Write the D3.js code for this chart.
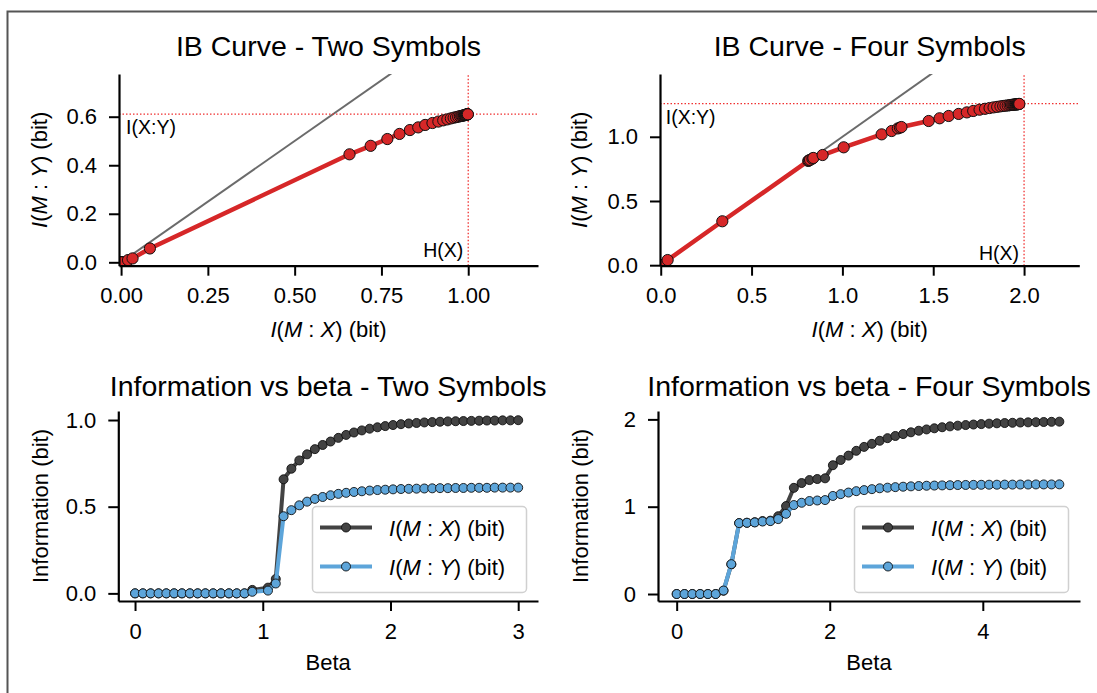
<!DOCTYPE html>
<html>
<head>
<meta charset="utf-8">
<script src="https://cdn.jsdelivr.net/npm/d3@7"></script>
<style>
html, body { margin: 0; padding: 0; background: #fff; }
svg text { font-family: "Liberation Sans", Arial, Helvetica, sans-serif; }
</style>
</head>
<body>
<svg id="chart" width="1097" height="693"></svg>
<script>
// ---- data: two symbols ----
var beta2 = [0, 0.061, 0.122, 0.184, 0.245, 0.306, 0.367, 0.429, 0.490, 0.551, 0.612, 0.673, 0.735, 0.796, 0.857,
  0.918, 1.041, 1.102, 1.163, 1.224, 1.286, 1.347, 1.408, 1.469, 1.531, 1.592, 1.653, 1.714, 1.776, 1.837,
  1.898, 1.959, 2.020, 2.082, 2.143, 2.204, 2.265, 2.327, 2.388, 2.449, 2.510, 2.571, 2.633, 2.694, 2.755,
  2.816, 2.878, 2.939, 3.0];
var mx2 = [0, 0, 0, 0, 0, 0, 0, 0, 0, 0, 0, 0, 0, 0, 0,
  0.020, 0.033, 0.083, 0.658, 0.719, 0.767, 0.802, 0.832, 0.856, 0.876, 0.897, 0.914, 0.928, 0.940, 0.950,
  0.958, 0.965, 0.971, 0.976, 0.980, 0.983, 0.986, 0.988, 0.990, 0.992, 0.993, 0.994, 0.995, 0.996, 0.997,
  0.997, 0.998, 0.998, 0.999];
var my2 = [0, 0, 0, 0, 0, 0, 0, 0, 0, 0, 0, 0, 0, 0, 0,
  0.009, 0.016, 0.057, 0.445, 0.480, 0.508, 0.529, 0.545, 0.556, 0.566, 0.574, 0.580, 0.585, 0.589, 0.593,
  0.596, 0.598, 0.600, 0.602, 0.603, 0.604, 0.605, 0.606, 0.607, 0.607, 0.608, 0.608, 0.609, 0.609, 0.609,
  0.610, 0.610, 0.610, 0.610];
var hx2 = 1.0, ixy2 = 0.611;

// ---- data: four symbols ----
var beta4 = [0, 0.102, 0.204, 0.306, 0.408, 0.510, 0.612, 0.714, 0.816, 0.918, 1.020, 1.122, 1.224, 1.327,
  1.429, 1.531, 1.633, 1.735, 1.837, 1.939, 2.041, 2.143, 2.245, 2.347, 2.449, 2.551, 2.653, 2.755, 2.857,
  2.959, 3.061, 3.163, 3.265, 3.367, 3.469, 3.571, 3.673, 3.776, 3.878, 3.980, 4.082, 4.184, 4.286, 4.388,
  4.490, 4.592, 4.694, 4.796, 4.898, 5.0];
var mx4 = [0, 0, 0, 0, 0, 0, 0.038, 0.339, 0.812, 0.816, 0.822, 0.835, 0.840, 0.891,
  1.007, 1.216, 1.271, 1.305, 1.317, 1.325, 1.475, 1.535, 1.585, 1.640, 1.685, 1.720, 1.755, 1.785, 1.810,
  1.832, 1.852, 1.870, 1.885, 1.898, 1.910, 1.920, 1.928, 1.935, 1.941, 1.946, 1.951, 1.955, 1.958, 1.961,
  1.964, 1.966, 1.968, 1.970, 1.972, 1.974];
var my4 = [0, 0, 0, 0, 0, 0, 0.040, 0.342, 0.812, 0.816, 0.820, 0.830, 0.835, 0.858,
  0.918, 1.019, 1.045, 1.065, 1.071, 1.076, 1.123, 1.144, 1.162, 1.178, 1.190, 1.201, 1.211, 1.218, 1.224,
  1.229, 1.233, 1.237, 1.240, 1.242, 1.244, 1.246, 1.248, 1.249, 1.250, 1.251, 1.252, 1.252, 1.253, 1.253,
  1.254, 1.254, 1.255, 1.255, 1.255, 1.256];
var hx4 = 2.0, ixy4 = 1.258;

// ---- tick labels ----
var ticksTLx = ['0.00', '0.25', '0.50', '0.75', '1.00'];
var ticksTLy = ['0.0', '0.2', '0.4', '0.6'];
var ticksTRx = ['0.0', '0.5', '1.0', '1.5', '2.0'];
var ticksTRy = ['0.0', '0.5', '1.0'];
var ticksBLx = ['0', '1', '2', '3'];
var ticksBLy = ['0.0', '0.5', '1.0'];
var ticksBRx = ['0', '2', '4'];
var ticksBRy = ['0', '1', '2'];

var svg = d3.select('#chart');
var font = '"Liberation Sans", Arial, Helvetica, sans-serif';

// outer frame (figure border, cropped at right/bottom)
svg.append('rect')
  .attr('x', 7.5).attr('y', 11.5)
  .attr('width', 1300).attr('height', 900)
  .attr('fill', 'none').attr('stroke', '#555').attr('stroke-width', 2);

// writes "I(a : b) (bit)" with the math parts in italics
function mathLabel(sel, a, b) {
  sel.append('tspan').attr('font-style', 'italic').text('I');
  sel.append('tspan').text('(');
  sel.append('tspan').attr('font-style', 'italic').text(a);
  sel.append('tspan').text('\u00a0:\u00a0');
  sel.append('tspan').attr('font-style', 'italic').text(b);
  sel.append('tspan').text(')\u00a0(bit)');
}

// draw the left and bottom spines with ticks
function drawAxes(x, y, xTicks, yTicks) {
  var gx = svg.append('g')
    .attr('transform', 'translate(0,' + y.range()[0] + ')')
    .call(d3.axisBottom(x)
      .tickValues(xTicks.map(Number))
      .tickFormat(function(d, i) { return xTicks[i]; })
      .tickSize(10).tickPadding(12).tickSizeOuter(0));
  var gy = svg.append('g')
    .attr('transform', 'translate(' + x.range()[0] + ',0)')
    .call(d3.axisLeft(y)
      .tickValues(yTicks.map(Number))
      .tickFormat(function(d, i) { return yTicks[i]; })
      .tickSize(10).tickPadding(12).tickSizeOuter(0));
  [gx, gy].forEach(function(g) {
    g.attr('font-size', 22).attr('font-family', font);
    g.select('.domain').attr('stroke', '#000').attr('stroke-width', 2.2);
    g.selectAll('.tick line').attr('stroke', '#000').attr('stroke-width', 2);
    g.selectAll('.tick text').attr('fill', '#000');
  });
}

function title(txt, cx, yb) {
  svg.append('text').attr('x', cx).attr('y', yb)
    .attr('text-anchor', 'middle').attr('font-size', 28.5).attr('fill', '#000')
    .text(txt);
}

function xLabel(cx, yb) {
  return svg.append('text').attr('x', cx).attr('y', yb)
    .attr('text-anchor', 'middle').attr('font-size', 22).attr('fill', '#000');
}

function yLabel(xb, cy) {
  return svg.append('text')
    .attr('transform', 'translate(' + xb + ',' + cy + ') rotate(-90)')
    .attr('text-anchor', 'middle').attr('font-size', 22).attr('fill', '#000');
}

// ---- IB curve panel ----
function ibPanel(id, x, y, mx, my, hx, ixy, xTicks, yTicks, titleTxt, ylx) {
  var x0 = x.range()[0], x1 = x.range()[1];
  var y0 = y.range()[0], y1 = y.range()[1];
  svg.append('clipPath').attr('id', id)
    .append('rect').attr('x', x0).attr('y', y1).attr('width', x1 - x0).attr('height', y0 - y1);
  var g = svg.append('g').attr('clip-path', 'url(#' + id + ')');

  // diagonal I(M:Y) = I(M:X)
  var dmax = Math.max(x.domain()[1], y.domain()[1]);
  g.append('line')
    .attr('x1', x(0)).attr('y1', y(0)).attr('x2', x(dmax)).attr('y2', y(dmax))
    .attr('stroke', '#6b6b6b').attr('stroke-width', 2);

  // reference lines
  g.append('line')
    .attr('x1', x0).attr('x2', x1).attr('y1', y(ixy)).attr('y2', y(ixy))
    .attr('stroke', '#f03030').attr('stroke-width', 1.3).attr('stroke-dasharray', '1.5,2');
  g.append('line')
    .attr('x1', x(hx)).attr('x2', x(hx)).attr('y1', y0).attr('y2', y1)
    .attr('stroke', '#f03030').attr('stroke-width', 1.3).attr('stroke-dasharray', '1.5,2');

  var line = d3.line().x(function(i) { return x(mx[i]); }).y(function(i) { return y(my[i]); });
  g.append('path').datum(d3.range(mx.length))
    .attr('d', line).attr('fill', 'none')
    .attr('stroke', '#d62728').attr('stroke-width', 4.5).attr('stroke-linejoin', 'round');
  g.selectAll('circle.pt').data(d3.range(mx.length)).enter().append('circle')
    .attr('cx', function(i) { return x(mx[i]); })
    .attr('cy', function(i) { return y(my[i]); })
    .attr('r', 5.6)
    .attr('fill', '#d62728').attr('stroke', '#111').attr('stroke-width', 1);

  svg.append('text').attr('x', x(0) + 5).attr('y', y(ixy) + 20)
    .attr('font-size', 19.5).attr('fill', '#000').text('I(X:Y)');
  svg.append('text').attr('x', x(hx) - 5).attr('y', y(0) - 5)
    .attr('text-anchor', 'end').attr('font-size', 19.5).attr('fill', '#000').text('H(X)');

  drawAxes(x, y, xTicks, yTicks);
  title(titleTxt, (x0 + x1) / 2, 56);
  mathLabel(xLabel((x0 + x1) / 2, 337), 'M', 'X');
  mathLabel(yLabel(ylx, (y0 + y1) / 2), 'M', 'Y');
}

// ---- information vs beta panel ----
function betaPanel(x, y, beta, mx, my, xTicks, yTicks, titleTxt, ylx) {
  var x0 = x.range()[0], x1 = x.range()[1];
  var y0 = y.range()[0], y1 = y.range()[1];
  var series = [
    { v: mx, color: '#434343', name: 'X' },
    { v: my, color: '#5da5da', name: 'Y' }
  ];
  series.forEach(function(s) {
    var line = d3.line().x(function(i) { return x(beta[i]); }).y(function(i) { return y(s.v[i]); });
    svg.append('path').datum(d3.range(beta.length))
      .attr('d', line).attr('fill', 'none')
      .attr('stroke', s.color).attr('stroke-width', 4).attr('stroke-linejoin', 'round');
    svg.append('g').selectAll('circle').data(d3.range(beta.length)).enter().append('circle')
      .attr('cx', function(i) { return x(beta[i]); })
      .attr('cy', function(i) { return y(s.v[i]); })
      .attr('r', 4.5)
      .attr('fill', s.color).attr('stroke', '#111').attr('stroke-width', 0.9);
  });

  drawAxes(x, y, xTicks, yTicks);
  title(titleTxt, (x0 + x1) / 2, 396);
  xLabel((x0 + x1) / 2, 670).text('Beta');
  yLabel(ylx, (y0 + y1) / 2).text('Information (bit)');

  // legend
  var lw = 214, lh = 86;
  var lx = x1 - 12 - lw, ly = y0 - 9 - lh;
  var lg = svg.append('g').attr('transform', 'translate(' + lx + ',' + ly + ')');
  lg.append('rect').attr('x', 0.5).attr('y', 0.5).attr('width', lw).attr('height', lh)
    .attr('rx', 4).attr('fill', '#fff').attr('fill-opacity', 0.85)
    .attr('stroke', '#d0d0d0').attr('stroke-width', 1.5);
  series.forEach(function(s, k) {
    var ry = 21.5 + k * 39;
    lg.append('line').attr('x1', 8).attr('x2', 60).attr('y1', ry).attr('y2', ry)
      .attr('stroke', s.color).attr('stroke-width', 4);
    lg.append('circle').attr('cx', 34).attr('cy', ry).attr('r', 4.5)
      .attr('fill', s.color).attr('stroke', '#111').attr('stroke-width', 0.9);
    var t = lg.append('text').attr('x', 77).attr('y', ry + 8)
      .attr('font-size', 22).attr('fill', '#000');
    mathLabel(t, 'M', s.name);
  });
}

// scales
var xTL = d3.scaleLinear().domain([-0.006, 1.201]).range([119, 538]);
var yTL = d3.scaleLinear().domain([-0.014, 0.776]).range([265.7, 74]);
var xTR = d3.scaleLinear().domain([-0.004, 2.304]).range([660, 1079.3]);
var yTR = d3.scaleLinear().domain([-0.004, 1.489]).range([265.7, 74]);
var xBL = d3.scaleLinear().domain([-0.131, 3.155]).range([118.3, 538]);
var yBL = d3.scaleLinear().domain([-0.044, 1.052]).range([601, 411]);
var xBR = d3.scaleLinear().domain([-0.244, 5.27]).range([658, 1080]);
var yBR = d3.scaleLinear().domain([-0.08, 2.096]).range([601, 411]);

ibPanel('clipTL', xTL, yTL, mx2, my2, hx2, ixy2, ticksTLx, ticksTLy, 'IB Curve - Two Symbols', 47);
ibPanel('clipTR', xTR, yTR, mx4, my4, hx4, ixy4, ticksTRx, ticksTRy, 'IB Curve - Four Symbols', 587);
betaPanel(xBL, yBL, beta2, mx2, my2, ticksBLx, ticksBLy, 'Information vs beta - Two Symbols', 48);
betaPanel(xBR, yBR, beta4, mx4, my4, ticksBRx, ticksBRy, 'Information vs beta - Four Symbols', 588);
</script>
</body>
</html>
